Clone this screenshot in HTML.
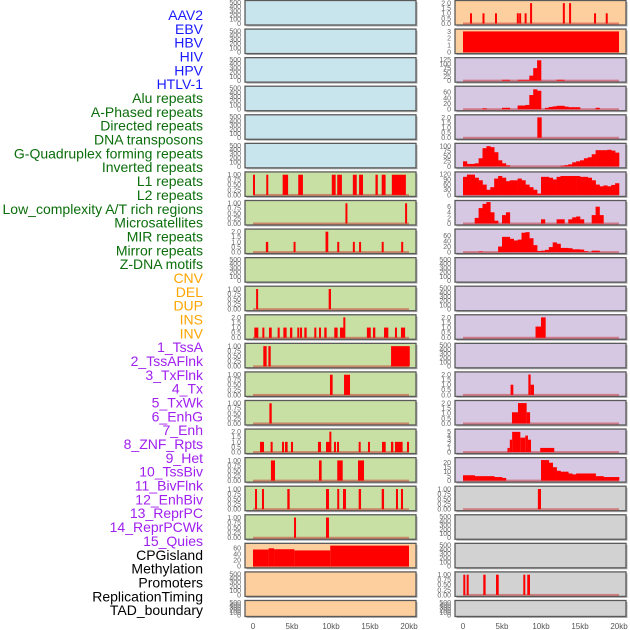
<!DOCTYPE html>
<html><head><meta charset="utf-8"><style>
html,body{margin:0;padding:0;background:#fff;}
svg{display:block;font-family:"Liberation Sans",sans-serif;}
</style></head><body>
<svg id="chart" width="630" height="630" viewBox="0 0 630 630"></svg>
<script>
const labels = ["AAV2","EBV","HBV","HIV","HPV","HTLV-1","Alu repeats","A-Phased repeats","Directed repeats","DNA transposons","G-Quadruplex forming repeats","Inverted repeats","L1 repeats","L2 repeats","Low_complexity A/T rich regions","Microsatellites","MIR repeats","Mirror repeats","Z-DNA motifs","CNV","DEL","DUP","INS","INV","1_TssA","2_TssAFlnk","3_TxFlnk","4_Tx","5_TxWk","6_EnhG","7_Enh","8_ZNF_Rpts","9_Het","10_TssBiv","11_BivFlnk","12_EnhBiv","13_ReprPC","14_ReprPCWk","15_Quies","CPGisland","Methylation","Promoters","ReplicationTiming","TAD_boundary"];
const labelColors = ["#1a1aff","#1a1aff","#1a1aff","#1a1aff","#1a1aff","#1a1aff","#0b6e0b","#0b6e0b","#0b6e0b","#0b6e0b","#0b6e0b","#0b6e0b","#0b6e0b","#0b6e0b","#0b6e0b","#0b6e0b","#0b6e0b","#0b6e0b","#0b6e0b","#ffa500","#ffa500","#ffa500","#ffa500","#ffa500","#a020f0","#a020f0","#a020f0","#a020f0","#a020f0","#a020f0","#a020f0","#a020f0","#a020f0","#a020f0","#a020f0","#a020f0","#a020f0","#a020f0","#a020f0","#000","#000","#000","#000","#000"];
const xTicks = [0,5,10,15,20];
const xTickLabels = ["0","5kb","10kb","15kb","20kb"];

// bar data: [startKb, endKb, value]
const L6 = [[0,0.2,1],[1.7,1.95,1],[3.8,4.5,1],[5.8,6.4,1],[10.1,10.6,1],[10.8,11.4,1],[12.8,13.3,1],[13.6,14.1,1],[15.7,16.0,1],[16.5,17.0,1],[17.8,19.6,1]];
const L7 = [[11.85,12.1,1],[19.5,19.75,1]];
const L8 = [[1.65,1.95,1],[5.2,5.45,1],[9.3,9.65,2],[10.8,11.05,1],[12.8,13.0,1],[13.6,13.85,1],[16.5,16.75,1],[19.0,19.25,1]];
const L10 = [[0.4,0.65,1],[9.7,10.0,1]];
const L11 = [[0.17,0.68,1],[1.2,1.45,1],[2.05,2.4,1],[3.16,3.42,1],[3.89,4.31,1],[4.74,5.04,1],[5.68,5.9,1],[6.03,6.24,1],[6.58,6.88,1],[7.86,8.08,1],[8.46,8.67,1],[9.14,9.44,1],[10.42,10.85,1],[11.15,11.79,1],[11.58,11.75,2],[14.6,15.1,1],[15.38,15.68,1],[16.8,17.35,1],[18.2,18.4,1],[18.97,19.5,1]];
const L12 = [[1.32,1.75,1],[1.97,2.27,1],[17.7,20.1,1]];
const L13 = [[9.87,10.21,1],[11.67,12.44,1]];
const L14 = [[2.1,2.4,1]];
const L15 = [[0.9,1.41,1],[2.26,2.52,1],[3.72,3.93,1],[4.1,4.44,1],[4.87,5.13,1],[8.33,8.72,1],[9.36,9.96,1],[9.79,9.96,2],[10.38,10.64,1],[10.77,11.03,1],[13.55,13.8,1],[14.74,14.96,1],[16.54,17.01,1],[17.69,17.99,1],[18.2,19.18,1],[19.74,20,1]];
const L16 = [[2.3,2.82,1],[8.46,8.8,1],[10.8,11.5,1],[13.46,14.23,1]];
const L17 = [[0.26,0.47,1],[1.15,1.41,1],[4.4,4.7,1],[9.36,9.74,1],[10.8,11.03,1],[11.54,11.92,1],[13.55,13.85,1],[16.5,16.8,1],[18.33,18.55,1],[18.97,19.23,1]];
const L18 = [[5.26,5.5,1],[9.36,9.74,1]];
const L19 = [[0,2.0,56],[2.0,2.7,60],[2.7,5.3,57],[5.3,9.9,53],[9.9,20,69]];
const R0 = [[0.9,1.1,1],[2.5,2.7,1],[4.1,4.3,1],[6.9,7.1,1],[7.2,7.4,1],[7.9,8.1,1],[8.6,8.8,2],[12.8,13.0,2],[13.6,13.8,2],[16.8,17.0,1],[18.3,18.5,1]];
const R1 = [[0,20,3]];
const R4 = [[9.53,10.09,2]];
const R11 = [[9.3,10.0,1.1],[10.0,10.6,2]];
const R13 = [[6.1,6.45,1],[8.38,8.67,2],[8.67,9.1,1]];
const R14 = [[6.28,7.05,1.1],[7.05,8.16,2],[8.16,8.6,1.1]];
const R15 = [[5.7,6.0,1],[6.0,6.3,3],[6.3,7.35,4.9],[7.35,7.99,3.5],[7.99,8.33,4],[8.33,8.72,3],[9.9,11.7,1]];
const R17 = [[9.6,10.0,1]];
const R20 = [[0.04,0.26,1],[0.47,0.73,1],[2.6,2.9,1],[4.23,4.58,1],[7.73,7.95,1],[8.24,8.59,1]];
// binned data: 40 bins of 0.5kb
const R2 = [0,0,0,0,0,0,0,0,0,0,5,5,0,0,5,5,5,30,75,122,0,0,0,0,5,5,0,0,0,0,0,0,0,0,0,0,0,0,0,0];
const R3 = [0,0,0,0,0,3,0,0,0,0,5,5,0,0,13,13,15,50,70,65,0,5,8,10,12,12,9,7,7,7,0,0,0,0,5,0,0,0,0,0];
const R5 = [25,12,12,15,40,90,100,95,70,30,15,5,0,0,0,0,0,0,0,0,0,0,0,0,0,3,6,10,20,25,30,40,45,60,80,80,80,82,78,68];
const R6 = [105,118,118,100,85,60,30,45,95,110,100,80,85,85,95,85,60,45,30,8,105,105,100,90,105,110,110,110,110,110,105,105,100,85,60,50,55,50,58,68];
const R7 = [0,0,0,2,5.5,7,8,4,1,0,3,4,0,0,0,0,0,0,0,0,1.5,0,0,0,1.5,1.5,0,1.5,2.2,2.5,1.5,0,0,3,6,3,0,0,0,0];
const R8 = [0,0,0,0,2,0,0,0,0,20,55,55,48,42,45,70,72,50,25,4,5,8,18,35,30,15,15,14,10,10,9,3,0,5,5,0,0,0,0,0];
const R16 = [6,6,6,5,5,5,5,5,4,4,3,0,0,0,0,0,0,0,0,0,23,23,20,15,11,10,10,8,7,8,8,8,8,8,5,5,4,4,4,4];

const EMPTY = {t:[0,100,200,300,400,500], l:["0","100","200","300","400","500"], m:500};
const UNIT = {t:[0,0.25,0.5,0.75,1], l:["0.00","0.25","0.50","0.75","1.00"], m:1.04};
const TWO = {t:[0,0.5,1,1.5,2], l:["0.0","0.5","1.0","1.5","2.0"], m:2.06};
const BLUE="#c8e4ec", GREEN="#c8e0a4", ORANGE="#fecf9e", PURPLE="#d6c7e3", GRAY="#d2d2d2";

const tracks = [
 {c:0,r:0,bg:BLUE,ax:EMPTY},{c:0,r:1,bg:BLUE,ax:EMPTY},{c:0,r:2,bg:BLUE,ax:EMPTY},{c:0,r:3,bg:BLUE,ax:EMPTY},{c:0,r:4,bg:BLUE,ax:EMPTY},{c:0,r:5,bg:BLUE,ax:EMPTY},
 {c:0,r:6,bg:GREEN,ax:UNIT,bars:L6},{c:0,r:7,bg:GREEN,ax:UNIT,bars:L7},{c:0,r:8,bg:GREEN,ax:TWO,bars:L8},{c:0,r:9,bg:GREEN,ax:EMPTY},
 {c:0,r:10,bg:GREEN,ax:UNIT,bars:L10},{c:0,r:11,bg:GREEN,ax:TWO,bars:L11},{c:0,r:12,bg:GREEN,ax:UNIT,bars:L12},{c:0,r:13,bg:GREEN,ax:UNIT,bars:L13},
 {c:0,r:14,bg:GREEN,ax:UNIT,bars:L14},{c:0,r:15,bg:GREEN,ax:TWO,bars:L15},{c:0,r:16,bg:GREEN,ax:UNIT,bars:L16},{c:0,r:17,bg:GREEN,ax:UNIT,bars:L17},
 {c:0,r:18,bg:GREEN,ax:UNIT,bars:L18},
 {c:0,r:19,bg:ORANGE,ax:{t:[0,20,40,60],l:["0","20","40","60"],m:70},bars:L19},{c:0,r:20,bg:ORANGE,ax:EMPTY},{c:0,r:21,bg:ORANGE,ax:EMPTY},
 {c:1,r:0,bg:ORANGE,ax:TWO,bars:R0},{c:1,r:1,bg:ORANGE,ax:{t:[0,1,2,3],l:["0","1","2","3"],m:3.05},bars:R1},
 {c:1,r:2,bg:PURPLE,ax:{t:[0,25,50,75,100,125],l:["0","25","50","75","100","125"],m:126},bins:R2},
 {c:1,r:3,bg:PURPLE,ax:{t:[0,20,40,60],l:["0","20","40","60"],m:74},bins:R3},
 {c:1,r:4,bg:PURPLE,ax:TWO,bars:R4},
 {c:1,r:5,bg:PURPLE,ax:{t:[0,25,50,75,100],l:["0","25","50","75","100"],m:104},bins:R5},
 {c:1,r:6,bg:PURPLE,ax:{t:[0,30,60,90,120],l:["0","30","60","90","120"],m:122},bins:R6},
 {c:1,r:7,bg:PURPLE,ax:{t:[0,2,4,6],l:["0","2","4","6"],m:7.5},bins:R7},
 {c:1,r:8,bg:PURPLE,ax:{t:[0,20,40,60],l:["0","20","40","60"],m:76},bins:R8},
 {c:1,r:9,bg:PURPLE,ax:EMPTY},{c:1,r:10,bg:PURPLE,ax:EMPTY},
 {c:1,r:11,bg:PURPLE,ax:TWO,bars:R11},{c:1,r:12,bg:PURPLE,ax:EMPTY},
 {c:1,r:13,bg:PURPLE,ax:TWO,bars:R13},{c:1,r:14,bg:PURPLE,ax:TWO,bars:R14},
 {c:1,r:15,bg:PURPLE,ax:{t:[0,1,2,3,4,5],l:["0","1","2","3","4","5"],m:5.1},bars:R15},
 {c:1,r:16,bg:PURPLE,ax:{t:[0,5,10,15,20],l:["0","5","10","15","20"],m:23.5},bins:R16},
 {c:1,r:17,bg:GRAY,ax:UNIT,bars:R17},{c:1,r:18,bg:GRAY,ax:EMPTY},{c:1,r:19,bg:GRAY,ax:EMPTY},
 {c:1,r:20,bg:GRAY,ax:UNIT,bars:R20},{c:1,r:21,bg:GRAY,ax:EMPTY}
];

const NS="http://www.w3.org/2000/svg";
const svg=document.getElementById('chart');
function mk(tag,attrs,parent){const e=document.createElementNS(NS,tag);for(const k in attrs)e.setAttribute(k,attrs[k]);(parent||svg).appendChild(e);return e;}
const colLeft=[245,455], panelW=171, x0=[253,463], kbPx=7.8;
function xs(c,kb){return x0[c]+kb*kbPx;}
function rowTop(r){return 0.5+r*28.57;}
function rowH(r){return r===21?16:24.5;}

// labels
labels.forEach((t,i)=>{
  const e=mk('text',{x:203,y:15+i*13.84+5,'text-anchor':'end','font-size':'14',fill:labelColors[i]});
  e.textContent=t;
  
  
});

tracks.forEach((tr,i)=>{
  const g=mk('g',{});
  
  
  const top=rowTop(tr.r), H=rowH(tr.r), L=colLeft[tr.c];
  mk('rect',{x:L+1.5,y:top+1.5,width:panelW,height:H,fill:'#b0b0b0'},g);
  mk('rect',{x:L,y:top,width:panelW,height:H,fill:tr.bg,stroke:'#5a5a5a','stroke-width':1.3},g);
  const yb=top+H-1.5, span=H-3.5;
  const ys=v=>yb-Math.min(v,tr.ax.m*1.02)/tr.ax.m*span;
  tr.ax.t.forEach((tv,k)=>{
    const e=mk('text',{x:L-4,y:ys(tv)+2.4,'text-anchor':'end','font-size':'7',fill:'#666'},g);
    e.textContent=tr.ax.l[k];
    
    
  });
  const has=tr.bars||tr.bins;
  if(has){
    const bl=mk('rect',{x:xs(tr.c,0),y:yb-1,width:20*kbPx,height:2,fill:'rgba(200,30,30,0.45)'},g);
    
    
  }
  if(tr.bars){
    tr.bars.forEach(b=>{
      const xa=xs(tr.c,b[0]), w=Math.max(2,xs(tr.c,b[1])-xa);
      const e=mk('rect',{x:xa,y:ys(b[2]),width:w,height:yb-ys(b[2]),fill:'#ff0000'},g);
      
      
    });
  }
  if(tr.bins){
    tr.bins.forEach((v,k)=>{
      if(v<=0)return;
      const xa=xs(tr.c,k*0.5), xb=xs(tr.c,(k+1)*0.5);
      const e=mk('rect',{x:xa,y:ys(v),width:xb-xa+0.3,height:yb-ys(v),fill:'#ff0000'},g);
      
      
    });
  }
});

[0,1].forEach(c=>{
  xTicks.forEach((kb,k)=>{
    const e=mk('text',{x:xs(c,kb),y:629,'text-anchor':'middle','font-size':'8',fill:'#555'});
    e.textContent=xTickLabels[k];
    
    
  });
});
</script>
</body></html>
